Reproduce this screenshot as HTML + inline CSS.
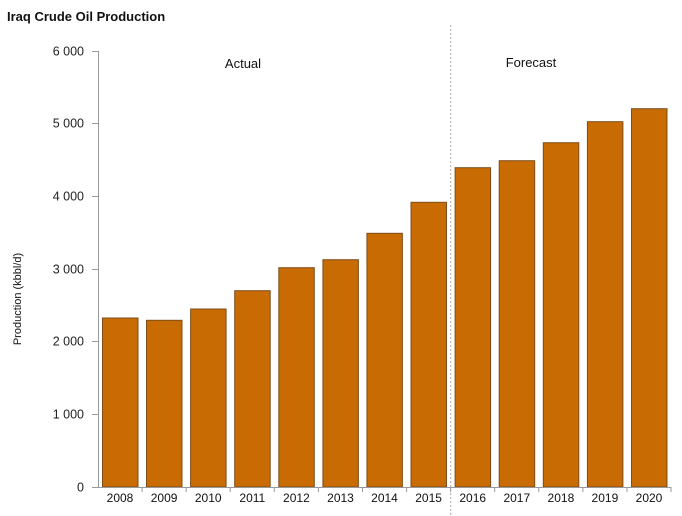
<!DOCTYPE html>
<html><head><meta charset="utf-8"><style>
html,body{margin:0;padding:0;background:#fff;}
svg{display:block;font-family:"Liberation Sans",Arial,sans-serif;}
</style></head><body>
<svg width="682" height="516" viewBox="0 0 682 516" xmlns="http://www.w3.org/2000/svg">
<rect width="682" height="516" fill="#fff"/>
<text x="7" y="21" font-size="13" font-weight="bold" fill="#111">Iraq Crude Oil Production</text>
<!-- dashed divider -->
<line x1="450.7" y1="25" x2="450.7" y2="516" stroke="#aaa" stroke-width="1" stroke-dasharray="2,2"/>
<text x="243" y="68" font-size="13" text-anchor="middle" fill="#111">Actual</text>
<text x="531" y="67" font-size="13" text-anchor="middle" fill="#111">Forecast</text>
<!-- y axis -->
<line x1="98.5" y1="51" x2="98.5" y2="487" stroke="#999" stroke-width="1"/>
<g stroke="#999" stroke-width="1">
<line x1="92" y1="487.5" x2="98" y2="487.5"/>
<line x1="92" y1="414.5" x2="98" y2="414.5"/>
<line x1="92" y1="341.5" x2="98" y2="341.5"/>
<line x1="92" y1="269.5" x2="98" y2="269.5"/>
<line x1="92" y1="196.5" x2="98" y2="196.5"/>
<line x1="92" y1="123.5" x2="98" y2="123.5"/>
<line x1="92" y1="51.5" x2="98" y2="51.5"/>
</g>
<g font-size="12.5" fill="#222" text-anchor="end">
<text x="84" y="491.5">0</text>
<text x="84" y="418.5">1 000</text>
<text x="84" y="345.5">2 000</text>
<text x="84" y="273.5">3 000</text>
<text x="84" y="200.5">4 000</text>
<text x="84" y="127.5">5 000</text>
<text x="84" y="55.5">6 000</text>
</g>
<text transform="translate(21,299) rotate(-90)" font-size="11" text-anchor="middle" fill="#111">Production (kbbl/d)</text>
<!-- bars -->
<g fill="#C86B02" stroke="#7D4E1C" stroke-width="1">
<rect x="102.5" y="318" width="35.5" height="169"/>
<rect x="146.5" y="320.3" width="35.5" height="166.7"/>
<rect x="190.6" y="309" width="35.5" height="178"/>
<rect x="234.7" y="290.7" width="35.5" height="196.3"/>
<rect x="278.8" y="267.7" width="35.5" height="219.3"/>
<rect x="322.9" y="259.7" width="35.5" height="227.3"/>
<rect x="366.9" y="233.3" width="35.5" height="253.7"/>
<rect x="411" y="202.3" width="35.5" height="284.7"/>
<rect x="455.1" y="167.7" width="35.5" height="319.3"/>
<rect x="499.2" y="160.7" width="35.5" height="326.3"/>
<rect x="543.3" y="142.7" width="35.5" height="344.3"/>
<rect x="587.4" y="121.7" width="35.5" height="365.3"/>
<rect x="631.5" y="108.7" width="35.5" height="378.3"/>
</g>
<!-- x axis -->
<line x1="92" y1="487.5" x2="671" y2="487.5" stroke="#999" stroke-width="1"/>
<g stroke="#999" stroke-width="1">
<line x1="142.1" y1="487" x2="142.1" y2="492"/>
<line x1="186.2" y1="487" x2="186.2" y2="492"/>
<line x1="230.2" y1="487" x2="230.2" y2="492"/>
<line x1="274.3" y1="487" x2="274.3" y2="492"/>
<line x1="318.4" y1="487" x2="318.4" y2="492"/>
<line x1="362.5" y1="487" x2="362.5" y2="492"/>
<line x1="406.6" y1="487" x2="406.6" y2="492"/>
<line x1="450.6" y1="487" x2="450.6" y2="492"/>
<line x1="494.7" y1="487" x2="494.7" y2="492"/>
<line x1="538.8" y1="487" x2="538.8" y2="492"/>
<line x1="582.9" y1="487" x2="582.9" y2="492"/>
<line x1="627" y1="487" x2="627" y2="492"/>
<line x1="671" y1="487" x2="671" y2="492"/>
</g>
<g font-size="12" fill="#111" text-anchor="middle">
<text x="120" y="502">2008</text>
<text x="164.1" y="502">2009</text>
<text x="208.2" y="502">2010</text>
<text x="252.3" y="502">2011</text>
<text x="296.4" y="502">2012</text>
<text x="340.5" y="502">2013</text>
<text x="384.5" y="502">2014</text>
<text x="428.6" y="502">2015</text>
<text x="472.7" y="502">2016</text>
<text x="516.8" y="502">2017</text>
<text x="560.9" y="502">2018</text>
<text x="604.9" y="502">2019</text>
<text x="649" y="502">2020</text>
</g>
</svg>
</body></html>
